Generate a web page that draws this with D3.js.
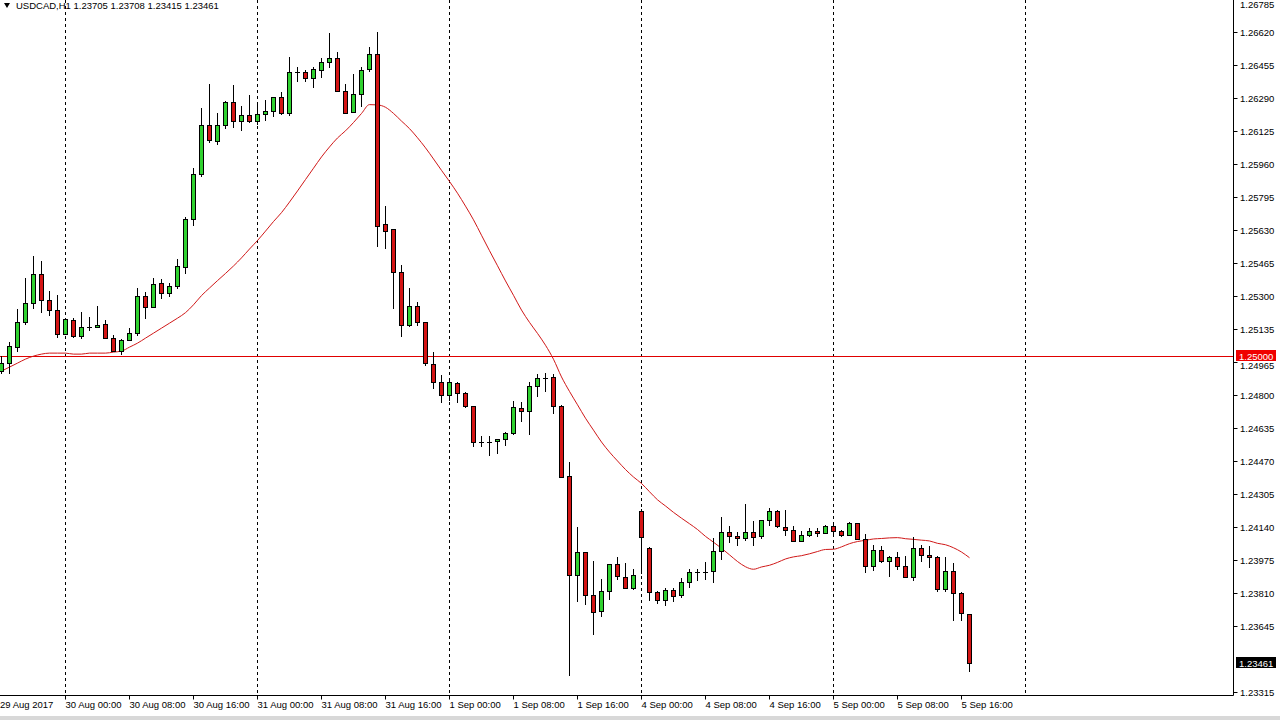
<!DOCTYPE html>
<html><head><meta charset="utf-8">
<script src="https://cdn.jsdelivr.net/npm/d3@7"></script>
<style>body{margin:0;background:#fff;overflow:hidden}svg{display:block;font-family:"Liberation Sans",Arial,sans-serif}</style>
</head><body><svg id="c" width="1280" height="720"></svg>
<script>
// OHLC rows [open, high, low, close] for USDCAD H1
const candles = [
[1.24922,1.24997,1.24907,1.24962],[1.24962,1.25067,1.24907,1.25047],[1.25042,1.25232,1.25017,1.25167],[1.25167,1.25387,1.25152,1.25262],
[1.25262,1.25497,1.25232,1.25407],[1.25407,1.25472,1.25212,1.25277],[1.25277,1.25322,1.25197,1.25227],[1.25227,1.25302,1.25087,1.25107],
[1.25107,1.25187,1.25102,1.25182],[1.25177,1.25187,1.25087,1.25097],[1.25097,1.25217,1.25082,1.25142],[1.25142,1.25192,1.25122,1.25142],
[1.25142,1.25247,1.25137,1.25152],[1.25157,1.25177,1.25087,1.25087],[1.25087,1.25102,1.25017,1.25022],[1.25022,1.25082,1.25002,1.25077],
[1.25077,1.25137,1.25072,1.25112],[1.25112,1.25337,1.25097,1.25297],[1.25297,1.25317,1.25182,1.25242],[1.25242,1.25387,1.25237,1.25357],
[1.25362,1.25382,1.25282,1.25312],[1.25312,1.25362,1.25292,1.25347],[1.25347,1.25482,1.25332,1.25447],[1.25442,1.25692,1.25407,1.25682],
[1.25682,1.25937,1.25647,1.25907],[1.25907,1.26237,1.25892,1.26152],[1.26152,1.26362,1.26062,1.26077],[1.26072,1.26212,1.26052,1.26152],
[1.26152,1.26272,1.26132,1.26267],[1.26267,1.26357,1.26137,1.26172],[1.26172,1.26247,1.26122,1.26202],[1.26202,1.26307,1.26162,1.26172],
[1.26172,1.26257,1.26152,1.26207],[1.26207,1.26277,1.26172,1.26222],[1.26222,1.26297,1.26192,1.26297],[1.26297,1.26322,1.26202,1.26212],
[1.26212,1.26497,1.26197,1.26422],[1.26422,1.26447,1.26372,1.26422],[1.26422,1.26432,1.26372,1.26392],[1.26392,1.26447,1.26342,1.26437],
[1.26432,1.26492,1.26392,1.26472],[1.26472,1.26617,1.26442,1.26492],[1.26492,1.26522,1.26322,1.26327],[1.26327,1.26362,1.26212,1.26212],
[1.26217,1.26412,1.26212,1.26312],[1.26312,1.26447,1.26242,1.26432],[1.26437,1.26547,1.26422,1.26512],[1.26512,1.26622,1.25542,1.25647],
[1.25657,1.25747,1.25532,1.25622],[1.25632,1.25632,1.25232,1.25417],[1.25417,1.25452,1.25092,1.25152],[1.25152,1.25337,1.25142,1.25247],
[1.25247,1.25267,1.25147,1.25167],[1.25167,1.25167,1.24947,1.24962],[1.24957,1.25017,1.24832,1.24867],[1.24867,1.24902,1.24762,1.24802],
[1.24802,1.24872,1.24772,1.24867],[1.24862,1.24867,1.24762,1.24812],[1.24812,1.24817,1.24737,1.24747],[1.24747,1.24747,1.24542,1.24567],
[1.24567,1.24597,1.24542,1.24567],[1.24567,1.24597,1.24497,1.24567],[1.24572,1.24582,1.24507,1.24582],[1.24582,1.24617,1.24547,1.24612],
[1.24612,1.24772,1.24602,1.24742],[1.24737,1.24767,1.24667,1.24722],[1.24722,1.24867,1.24602,1.24847],[1.24847,1.24907,1.24792,1.24887],
[1.24887,1.24912,1.24817,1.24887],[1.24892,1.24907,1.24707,1.24747],[1.24747,1.24752,1.24392,1.24392],[1.24397,1.24467,1.23397,1.23902],
[1.23902,1.24142,1.23767,1.24017],[1.24017,1.24017,1.23752,1.23802],[1.23802,1.23972,1.23602,1.23717],[1.23722,1.23882,1.23692,1.23822],
[1.23822,1.23957,1.23777,1.23957],[1.23957,1.23992,1.23877,1.23897],[1.23892,1.23962,1.23832,1.23837],[1.23837,1.23932,1.23827,1.23902],
[1.24222,1.24232,1.23907,1.24092],[1.24037,1.24042,1.23772,1.23817],[1.23817,1.23822,1.23757,1.23777],[1.23777,1.23837,1.23747,1.23827],
[1.23827,1.23837,1.23767,1.23797],[1.23802,1.23887,1.23787,1.23867],[1.23867,1.23932,1.23837,1.23917],[1.23917,1.23932,1.23872,1.23917],
[1.23917,1.23967,1.23877,1.23917],[1.23922,1.24087,1.23862,1.24022],[1.24022,1.24192,1.23977,1.24117],[1.24117,1.24147,1.24062,1.24097],
[1.24097,1.24117,1.24047,1.24087],[1.24087,1.24257,1.24072,1.24117],[1.24117,1.24172,1.24047,1.24092],[1.24097,1.24177,1.24082,1.24177],
[1.24177,1.24237,1.24147,1.24222],[1.24222,1.24227,1.24137,1.24147],[1.24142,1.24227,1.24097,1.24127],[1.24127,1.24147,1.24067,1.24072],
[1.24072,1.24122,1.24067,1.24102],[1.24102,1.24137,1.24092,1.24122],[1.24122,1.24137,1.24092,1.24112],[1.24112,1.24152,1.24107,1.24147],
[1.24147,1.24157,1.24107,1.24122],[1.24122,1.24127,1.24092,1.24102],[1.24102,1.24167,1.24097,1.24162],[1.24162,1.24162,1.24077,1.24082],
[1.24082,1.24107,1.23912,1.23947],[1.23947,1.24052,1.23922,1.24027],[1.24027,1.24047,1.23962,1.23972],[1.23972,1.23997,1.23892,1.23992],
[1.23992,1.24017,1.23927,1.23947],[1.23947,1.23997,1.23887,1.23892],[1.23892,1.24092,1.23872,1.24037],[1.24037,1.24052,1.23967,1.24002],
[1.24002,1.24047,1.23937,1.23992],[1.23992,1.23997,1.23817,1.23832],[1.23832,1.23992,1.23817,1.23922],[1.23922,1.23962,1.23672,1.23812],
[1.23812,1.23817,1.23672,1.23712],[1.23705,1.23708,1.23415,1.23461]
];
// Moving average (24) values for first candles (history before visible range)
const maEarly = [1.24922,1.24942,1.24962,1.24982,1.24997,1.25007,1.25012,1.25012,1.25012,1.25007,1.25007,1.25012,1.25012,1.25012,1.25017,1.25022,1.25042,1.25062,1.25087,1.25112,1.25137,1.25162,1.25187];
const maPeriod = 24;
const hLine = 1.25000;
const lastPrice = 1.23461;
const priceTicks = [1.26785,1.26620,1.26455,1.26290,1.26125,1.25960,1.25795,1.25630,1.25465,1.25300,1.25135,1.24965,1.24800,1.24635,1.24470,1.24305,1.24140,1.23975,1.23810,1.23645,1.23315];
const timeLabels = ["29 Aug 2017","30 Aug 00:00","30 Aug 08:00","30 Aug 16:00","31 Aug 00:00","31 Aug 08:00","31 Aug 16:00","1 Sep 00:00","1 Sep 08:00","1 Sep 16:00","4 Sep 00:00","4 Sep 08:00","4 Sep 16:00","5 Sep 00:00","5 Sep 08:00","5 Sep 16:00"];
const timeLabelIdx = [0,8,16,24,32,40,48,56,64,72,80,88,96,104,112,120];
const gridIdx = [8,32,56,80,104,128];
const title = "USDCAD,H1  1.23705 1.23708 1.23415 1.23461";

const svg = d3.select("#c");
const x = d3.scaleLinear().domain([0,1]).range([1,9]);
const y = d3.scaleLinear().domain([1.23315,1.26620]).range([692,32]);
const axisX = 1233.5, axisY = 695.5;

svg.append("g").selectAll("line").data(gridIdx).join("line")
 .attr("x1",d=>Math.round(x(d))+0.5).attr("x2",d=>Math.round(x(d))+0.5).attr("y1",0).attr("y2",axisY)
 .attr("stroke","#000").attr("stroke-dasharray","3,3");

svg.append("line").attr("x1",0).attr("x2",axisX).attr("y1",Math.round(y(hLine))+0.5).attr("y2",Math.round(y(hLine))+0.5).attr("stroke","#e00000");

const closes = candles.map(c=>c[3]);
const ma = closes.map((c,i)=> i<maEarly.length ? maEarly[i] : d3.mean(closes.slice(i-maPeriod+1,i+1)));
svg.append("path").datum(ma).attr("fill","none").attr("stroke","#d01818").attr("stroke-width",1)
 .attr("d",d3.line().curve(d3.curveMonotoneX).x((d,i)=>x(i)+0.5).y(d=>y(d)));

const g = svg.append("g");
candles.forEach((c,i)=>{
  const cx = Math.round(x(i))+0.5, up = c[3]>=c[0];
  g.append("line").attr("x1",cx).attr("x2",cx).attr("y1",Math.round(y(c[1]))).attr("y2",Math.round(y(c[2]))).attr("stroke","#000");
  const top = Math.round(y(Math.max(c[0],c[3]))), bot = Math.round(y(Math.min(c[0],c[3])));
  if (bot-top<1) {
    g.append("line").attr("x1",cx-2.5).attr("x2",cx+2.5).attr("y1",top+0.5).attr("y2",top+0.5).attr("stroke","#000");
  } else {
    g.append("rect").attr("x",cx-2).attr("y",top+0.5).attr("width",4).attr("height",bot-top)
     .attr("fill",up?"#2fd12f":"#d41414").attr("stroke","#000");
  }
});

svg.append("line").attr("x1",axisX).attr("x2",axisX).attr("y1",0).attr("y2",axisY).attr("stroke","#000");
svg.append("line").attr("x1",0).attr("x2",axisX).attr("y1",axisY).attr("y2",axisY).attr("stroke","#000");
svg.append("rect").attr("x",0).attr("y",716).attr("width",1280).attr("height",4).attr("fill","#d8d8d8");

const yt = svg.append("g").attr("font-size",9.5);
priceTicks.forEach(p=>{
  let yy = Math.round(y(p));
  yt.append("line").attr("x1",axisX).attr("x2",axisX+4).attr("y1",yy+0.5).attr("y2",yy+0.5).attr("stroke","#000");
  const ty = p===1.26785 ? 8 : yy+4;
  const t2 = p===1.24965 ? yy+7 : ty;
  yt.append("text").attr("x",1240).attr("y",t2).text(p.toFixed(5));
});
[[hLine,"#f00000"],[lastPrice,"#000"]].forEach(([p,col])=>{
  const yy = Math.round(y(p));
  yt.append("rect").attr("x",1236).attr("y",yy-6).attr("width",40).attr("height",11).attr("fill",col);
  yt.append("text").attr("x",1239).attr("y",yy+3.5).attr("fill","#fff").text(p.toFixed(5));
});

const xt = svg.append("g").attr("font-size",9.5);
timeLabelIdx.forEach((idx,k)=>{
  const xx = Math.round(x(idx))+0.5;
  if (k>0) xt.append("line").attr("x1",xx).attr("x2",xx).attr("y1",axisY).attr("y2",axisY+4).attr("stroke","#000");
  xt.append("text").attr("x",k===0?0:xx).attr("y",708).text(timeLabels[k]);
});

svg.append("path").attr("d","M4,3 L10,3 L7,8 Z").attr("fill","#000");
svg.append("text").attr("x",16).attr("y",9).attr("font-size",9.5).text(title);
</script></body></html>
